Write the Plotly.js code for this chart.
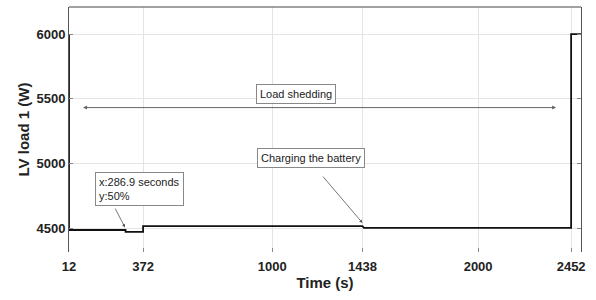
<!DOCTYPE html>
<html>
<head>
<meta charset="utf-8">
<script src="https://cdn.plot.ly/plotly-3.0.1.min.js"></script>
<style>html,body{margin:0;padding:0;background:#fff;}#chart{width:596px;height:300px;}</style>
</head>
<body>
<div id="chart"></div>
<script>
// Data
const timeS = [12, 12, 286.9, 286.9, 372, 372, 1438, 1445, 2452, 2452, 2500];
const loadW = [6000, 4485, 4485, 4470, 4470, 4515, 4515, 4502, 4502, 6000, 6000];
const xTickVals = [12, 372, 1000, 1438, 2000, 2452];
const xTickText = ['12', '372', '1000', '1438', '2000', '2452'];
const yTickVals = [4500, 5000, 5500, 6000];
const yTickText = ['4500', '5000', '5500', '6000'];

const trace = {
  x: timeS, y: loadW, type: 'scatter', mode: 'lines',
  line: {color: '#111', width: 1.8, shape: 'linear'},
  hoverinfo: 'skip'
};

const annFont = {family: 'Liberation Sans, Arial, sans-serif', size: 11, color: '#222'};
const layout = {
  width: 596, height: 300,
  margin: {l: 69, r: 15, t: 7, b: 48},
  paper_bgcolor: '#fff', plot_bgcolor: '#fff',
  showlegend: false,
  xaxis: {
    range: [12, 2500], tickmode: 'array', tickvals: xTickVals, ticktext: xTickText,
    showline: false, zeroline: false, showgrid: true, gridcolor: '#e4e4e4', gridwidth: 1,
    ticks: 'inside', ticklen: 4, tickcolor: '#888', ticklabelstandoff: 5,
    tickfont: {family: 'Liberation Sans, Arial, sans-serif', size: 13, color: '#222', weight: 'bold'},
    title: {text: '<b>Time (s)</b>', font: {family: 'Liberation Sans, Arial, sans-serif', size: 15, color: '#222'}, standoff: 3}
  },
  yaxis: {
    range: [4315, 6210], tickmode: 'array', tickvals: yTickVals, ticktext: yTickText,
    showline: true, mirror: 'ticks', linecolor: '#555', linewidth: 1,
    zeroline: false, showgrid: true, gridcolor: '#e4e4e4', gridwidth: 1,
    ticks: 'inside', ticklen: 4, tickcolor: '#888',
    tickfont: {family: 'Liberation Sans, Arial, sans-serif', size: 13, color: '#222', weight: 'bold'},
    title: {text: '<b>LV load 1 (W)</b>', font: {family: 'Liberation Sans, Arial, sans-serif', size: 15, color: '#222'}, standoff: 3}
  },
  shapes: [
    {type: 'line', xref: 'paper', yref: 'paper', x0: 0, x1: 1, y0: 1, y1: 1, line: {color: '#444', width: 1}}
  ],
  annotations: [
    {xref: 'x', yref: 'y', x: 1114, y: 5536, text: 'Load shedding', showarrow: false,
     font: annFont, bordercolor: '#888', borderwidth: 1, borderpad: 3, bgcolor: '#fff'},
    {xref: 'x', yref: 'y', x: 2379, y: 5432, ax: 73, ay: 5432, axref: 'x', ayref: 'y', text: '',
     showarrow: true, arrowhead: 2, startarrowhead: 2, arrowside: 'end+start', arrowsize: 0.8, arrowwidth: 1, arrowcolor: '#666'},
    {xref: 'x', yref: 'y', x: 1190, y: 5041, text: 'Charging the battery', showarrow: false,
     font: annFont, bordercolor: '#888', borderwidth: 1, borderpad: 3, bgcolor: '#fff'},
    {xref: 'x', yref: 'y', x: 1438, y: 4540, ax: 1240, ay: 4910, axref: 'x', ayref: 'y', text: '',
     showarrow: true, arrowhead: 2, arrowsize: 0.8, arrowwidth: 0.8, arrowcolor: '#555'},
    {xref: 'x', yref: 'y', x: 355, y: 4805, text: 'x:286.9 seconds<br>y:50%', showarrow: false, align: 'left',
     font: annFont, bordercolor: '#888', borderwidth: 1, borderpad: 3, bgcolor: '#fff'},
    {xref: 'x', yref: 'y', x: 284, y: 4505, ax: 233, ay: 4662, axref: 'x', ayref: 'y', text: '',
     showarrow: true, arrowhead: 2, arrowsize: 0.8, arrowwidth: 0.8, arrowcolor: '#555'}
  ]
};

Plotly.newPlot('chart', [trace], layout, {displayModeBar: false, staticPlot: true});
</script>
</body>
</html>
